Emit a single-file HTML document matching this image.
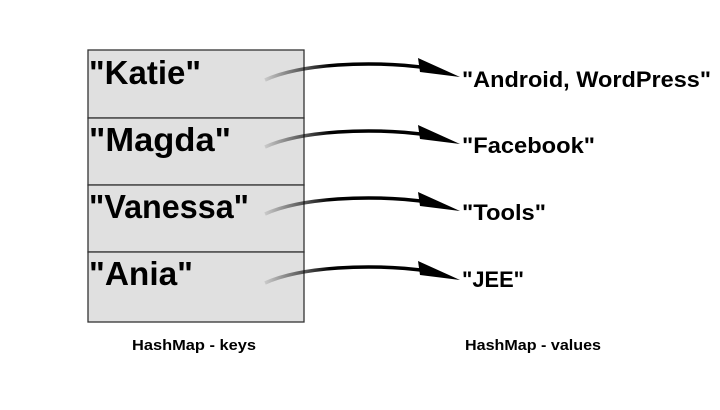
<!DOCTYPE html>
<html><head><style>
body{margin:0;width:720px;height:405px;background:#fff;overflow:hidden;font-family:"Liberation Sans",sans-serif}
</style></head><body>
<svg width="720" height="405" viewBox="0 0 720 405" xmlns="http://www.w3.org/2000/svg">
<defs>
<linearGradient id="g" x1="265" y1="0" x2="330" y2="0" gradientUnits="userSpaceOnUse">
<stop offset="0" stop-color="#000" stop-opacity="0.1"/><stop offset="1" stop-color="#000"/>
</linearGradient>
<g id="arr">
<path d="M265 30 C300 14,370 10,428 18" fill="none" stroke="url(#g)" stroke-width="3.5"/>
<polygon points="418,8 460,27 420,22" fill="#000"/>
</g>
</defs>
<g fill="#e0e0e0" stroke="#333" stroke-width="1.3">
<rect x="88" y="50" width="216" height="68"/>
<rect x="88" y="118" width="216" height="67"/>
<rect x="88" y="185" width="216" height="67"/>
<rect x="88" y="252" width="216" height="70"/>
</g>
<use href="#arr" y="50"/>
<use href="#arr" y="117"/>
<use href="#arr" y="184"/>
<use href="#arr" y="253"/>
<g font-weight="bold" font-size="33" fill="#000">
<text x="89" y="84" textLength="112" lengthAdjust="spacingAndGlyphs">"Katie"</text>
<text x="89" y="151" textLength="142" lengthAdjust="spacingAndGlyphs">"Magda"</text>
<text x="89" y="218" textLength="160" lengthAdjust="spacingAndGlyphs">"Vanessa"</text>
<text x="89" y="285" textLength="104" lengthAdjust="spacingAndGlyphs">"Ania"</text>
</g>
<g font-weight="bold" font-size="22" fill="#000">
<text x="462" y="87" textLength="249" lengthAdjust="spacingAndGlyphs">"Android, WordPress"</text>
<text x="462" y="153" textLength="133" lengthAdjust="spacingAndGlyphs">"Facebook"</text>
<text x="462" y="220" textLength="84" lengthAdjust="spacingAndGlyphs">"Tools"</text>
<text x="462" y="287" textLength="62" lengthAdjust="spacingAndGlyphs">"JEE"</text>
</g>
<g font-weight="bold" font-size="15" fill="#000">
<text x="132" y="350" textLength="124" lengthAdjust="spacingAndGlyphs">HashMap - keys</text>
<text x="465" y="350" textLength="136" lengthAdjust="spacingAndGlyphs">HashMap - values</text>
</g>
</svg>
</body></html>
